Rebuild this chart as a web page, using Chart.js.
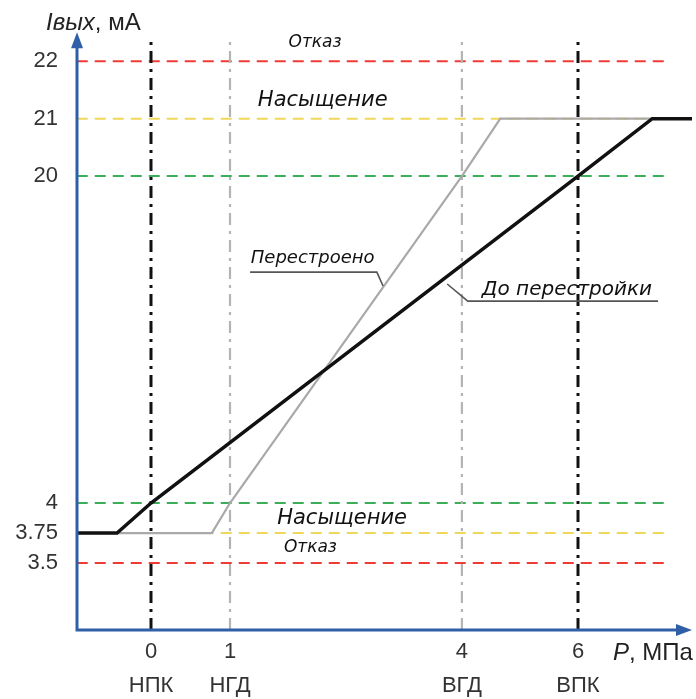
<!DOCTYPE html>
<html>
<head>
<meta charset="utf-8">
<script src="https://cdn.jsdelivr.net/npm/chart.js@4.4.1/dist/chart.umd.min.js"></script>
<style>
  html, body { margin: 0; background: #fff; }
  #wrap { width: 696px; height: 699px; }
</style>
</head>
<body>
<div id="wrap"><canvas id="chart"></canvas></div>
<script>
// pressure ticks (MPa) and their names
const pTicks = [0, 1, 4, 6];
const pNames = ['НПК', 'НГД', 'ВГД', 'ВПК'];
// output current ticks (mA)
const iTicks = [3.5, 3.75, 4, 20, 21, 22];
const iTickLabels = ['3.5', '3.75', '4', '20', '21', '22'];

// "До перестройки" (before re-ranging)
const beforeP = [-0.94, -0.43, 0, 6, 7.28, 7.97];
const beforeI = [3.75, 3.75, 4, 20, 21, 21];
// "Перестроено" (re-ranged)
const afterP = [-0.94, 0.77, 1, 4, 4.66, 7.28];
const afterI = [3.75, 3.75, 4, 20, 21, 21];

// limit levels, mA
const limitLevels = [22, 21, 20, 4, 3.75, 3.5];
const limitKinds = ['fail', 'sat', 'ok', 'ok', 'sat', 'fail'];
const limitEnd = 7.5;
const vLineTop = 22.37;
const vLineKinds = ['range', 'span', 'span', 'range'];

const noteTexts = ['Отказ', 'Насыщение', 'Насыщение', 'Отказ', 'Перестроено', 'До перестройки'];
const noteP = [2.10, 2.20, 2.45, 2.04, 2.07, 5.81];
const noteI = [22.33, 21.32, 3.87, 3.625, 16.0, 14.42];
const noteSize = [17, 21, 21, 17, 18, 20];
const leaders = [
  [[1.26, 15.30], [2.90, 15.30], [2.98, 14.62]],
  [[3.81, 14.72], [4.10, 13.88], [7.38, 13.88]]
];

// the drawing is schematic: both axes are piecewise (broken) scales
const fy = v => v <= 4 ? (v - 4) * 120 : v <= 20 ? (v - 4) * 20.44 : 327 + (v - 20) * 57.5;
const fx = v => v <= 1 ? v * 79 : v <= 4 ? 79 + (v - 1) * 77.3 : 311 + (v - 4) * 58;
const pt = (p, i) => ({ x: fx(p), y: fy(i) });

const AXIS = '#2f5fa8';
const limitColor = { fail: '#ee3b34', sat: '#efd75a', ok: '#3cae5a' };
const vColor = { range: '#111111', span: '#b4b4b4' };

const pMin = beforeP[0];
const iMin = 4 - 127 / 120;

const datasets = [
  { data: beforeP.map((p, k) => pt(p, beforeI[k])), borderColor: '#111', borderWidth: 3.5, order: 0 },
  { data: afterP.map((p, k) => pt(p, afterI[k])), borderColor: '#a9a9a9', borderWidth: 2.2, order: 1 }
];
pTicks.forEach((p, k) => datasets.push({
  data: [pt(p, iMin), pt(p, vLineTop)],
  borderColor: vColor[vLineKinds[k]],
  borderWidth: vLineKinds[k] === 'range' ? 3 : 2.2,
  borderDash: [12, 6, 3, 6],
  order: 2
}));
limitLevels.forEach((lv, k) => datasets.push({
  data: [pt(pMin, lv), pt(limitEnd, lv)],
  borderColor: limitColor[limitKinds[k]],
  borderWidth: 2,
  borderDash: [11, 7],
  order: 3
}));

const decor = {
  id: 'decor',
  afterDatasetsDraw(chart) {
    const { ctx, chartArea: a, scales: { x, y } } = chart;
    const px = p => x.getPixelForValue(fx(p));
    const py = i => y.getPixelForValue(fy(i));
    ctx.save();
    // axes with arrows
    ctx.strokeStyle = AXIS; ctx.fillStyle = AXIS; ctx.lineWidth = 3;
    ctx.beginPath();
    ctx.moveTo(a.left, a.top + 10); ctx.lineTo(a.left, a.bottom); ctx.lineTo(a.right - 10, a.bottom);
    ctx.stroke();
    ctx.beginPath();
    ctx.moveTo(a.left, a.top); ctx.lineTo(a.left - 6, a.top + 16); ctx.lineTo(a.left + 6, a.top + 16); ctx.closePath();
    ctx.fill();
    ctx.beginPath();
    ctx.moveTo(a.right, a.bottom); ctx.lineTo(a.right - 16, a.bottom - 6); ctx.lineTo(a.right - 16, a.bottom + 6); ctx.closePath();
    ctx.fill();

    // leader lines
    ctx.strokeStyle = '#555'; ctx.lineWidth = 1.6;
    leaders.forEach(path => {
      ctx.beginPath();
      path.forEach(([p, i], k) => k ? ctx.lineTo(px(p), py(i)) : ctx.moveTo(px(p), py(i)));
      ctx.stroke();
    });

    // notes
    ctx.fillStyle = '#111'; ctx.textAlign = 'center'; ctx.textBaseline = 'middle';
    noteTexts.forEach((t, k) => {
      ctx.font = `italic ${noteSize[k]}px "DejaVu Sans"`;
      ctx.fillText(t, px(noteP[k]), py(noteI[k]));
    });

    // axis titles
    ctx.fillStyle = '#222'; ctx.textAlign = 'left';
    ctx.font = 'italic 24px "Liberation Sans"';
    let tx = a.left - 31;
    ctx.fillText('Iвых', tx, a.top - 9);
    tx += ctx.measureText('Iвых').width;
    ctx.font = '24px "Liberation Sans"';
    ctx.fillText(', мА', tx, a.top - 9);

    ctx.font = 'italic 24px "Liberation Sans"';
    tx = a.right - 79;
    ctx.fillText('P', tx, a.bottom + 23);
    tx += ctx.measureText('P').width;
    ctx.font = '24px "Liberation Sans"';
    ctx.fillText(', МПа', tx, a.bottom + 23);
    ctx.restore();
  }
};

new Chart(document.getElementById('chart'), {
  type: 'line',
  data: { datasets },
  options: {
    responsive: true,
    maintainAspectRatio: false,
    animation: false,
    events: [],
    layout: { autoPadding: false, padding: { top: 32, right: 4, left: 0, bottom: 0 } },
    elements: { point: { radius: 0 }, line: { tension: 0, borderCapStyle: 'butt', fill: false } },
    plugins: { legend: { display: false }, tooltip: { enabled: false } },
    scales: {
      x: {
        type: 'linear', min: -74, max: 541,
        grid: { display: false, drawTicks: false }, border: { display: false },
        afterBuildTicks: s => { s.ticks = pTicks.map(v => ({ value: fx(v) })); },
        afterFit: s => { s.height = 69; },
        ticks: {
          autoSkip: false, maxRotation: 0, padding: 5, color: '#333',
          font: { family: 'Liberation Sans', size: 22, lineHeight: '34px' },
          callback: (v, k) => [String(pTicks[k]), pNames[k]]
        }
      },
      y: {
        type: 'linear', min: -127, max: 471,
        grid: { display: false, drawTicks: false }, border: { display: false },
        afterBuildTicks: s => { s.ticks = iTicks.map(v => ({ value: fy(v) })); },
        afterFit: s => { s.width = 77; },
        ticks: {
          autoSkip: false, padding: 19, color: '#333',
          font: { family: 'Liberation Sans', size: 22 },
          callback: (v, k) => iTickLabels[k]
        }
      }
    }
  },
  plugins: [decor]
});
</script>
</body>
</html>
